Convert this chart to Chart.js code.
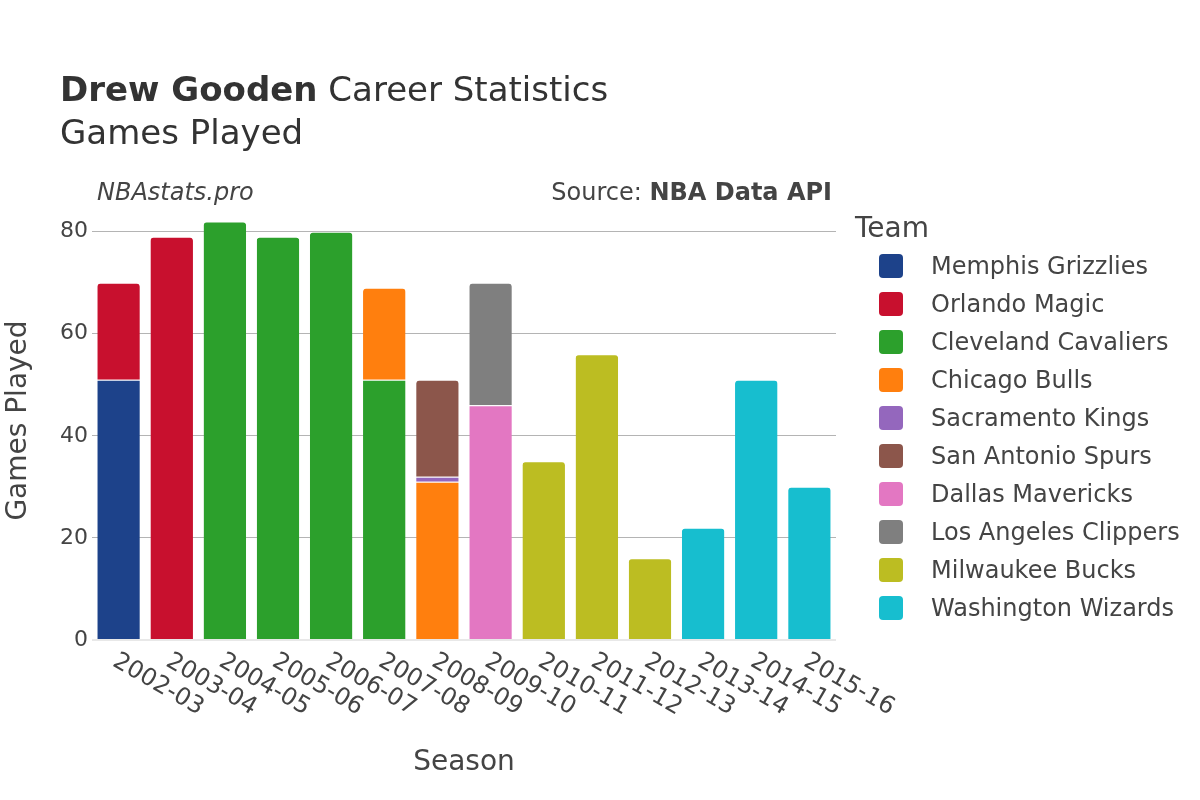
<!DOCTYPE html>
<html>
<head>
<meta charset="utf-8">
<script src="https://cdn.jsdelivr.net/npm/chart.js@4.4.1/dist/chart.umd.min.js"></script>
<style>
body { margin: 0; background: #fff; }
#wrap { width: 1200px; height: 800px; position: relative; }
</style>
</head>
<body>
<div id="wrap"><canvas id="chart"></canvas></div>
<script>
const seasons = ['2002-03', '2003-04', '2004-05', '2005-06', '2006-07', '2007-08', '2008-09',
    '2009-10', '2010-11', '2011-12', '2012-13', '2013-14', '2014-15', '2015-16'];

const teams = ['Memphis Grizzlies', 'Orlando Magic', 'Cleveland Cavaliers', 'Chicago Bulls',
    'Sacramento Kings', 'San Antonio Spurs', 'Dallas Mavericks', 'Los Angeles Clippers',
    'Milwaukee Bucks', 'Washington Wizards'];

const teamColors = ['#1d428a', '#c8102e', '#2ca02c', '#ff7f0e', '#9467bd',
    '#8c564b', '#e377c2', '#7f7f7f', '#bcbd22', '#17becf'];

// games played per season, one array per team
const memphisGames    = [51, null, null, null, null, null, null, null, null, null, null, null, null, null];
const orlandoGames    = [19, 79, null, null, null, null, null, null, null, null, null, null, null, null];
const clevelandGames  = [null, null, 82, 79, 80, 51, null, null, null, null, null, null, null, null];
const chicagoGames    = [null, null, null, null, null, 18, 31, null, null, null, null, null, null, null];
const sacramentoGames = [null, null, null, null, null, null, 1, null, null, null, null, null, null, null];
const spursGames      = [null, null, null, null, null, null, 19, null, null, null, null, null, null, null];
const dallasGames     = [null, null, null, null, null, null, null, 46, null, null, null, null, null, null];
const clippersGames   = [null, null, null, null, null, null, null, 24, null, null, null, null, null, null];
const bucksGames      = [null, null, null, null, null, null, null, null, 35, 56, 16, null, null, null];
const wizardsGames    = [null, null, null, null, null, null, null, null, null, null, null, 22, 51, 30];

const teamGames = [memphisGames, orlandoGames, clevelandGames, chicagoGames, sacramentoGames,
    spursGames, dallasGames, clippersGames, bucksGames, wizardsGames];

const yTicks = [0, 20, 40, 60, 80];

const FONT = '"DejaVu Sans", sans-serif';

const datasets = teams.map((team, i) => ({
    label: team,
    data: teamGames[i],
    backgroundColor: teamColors[i],
    borderColor: '#ffffff',
    borderWidth: { top: 1, left: 0, right: 0, bottom: 0 },
    borderRadius: 4,
    categoryPercentage: 1.0,
    barPercentage: 0.8,
}));

const extras = {
    id: 'extras',
    afterDraw(chart) {
        const ctx = chart.ctx;
        const area = chart.chartArea;
        const xs = chart.scales.x;
        ctx.save();

        // titles
        ctx.textBaseline = 'alphabetic';
        ctx.textAlign = 'left';
        ctx.fillStyle = '#333';
        ctx.font = 'bold 34px ' + FONT;
        ctx.fillText('Drew Gooden', 60, 101);
        const w = ctx.measureText('Drew Gooden').width;
        ctx.font = '34px ' + FONT;
        ctx.fillText(' Career Statistics', 60 + w, 101);
        ctx.fillText('Games Played', 60, 144);

        ctx.fillStyle = '#444';
        ctx.font = 'italic 24px ' + FONT;
        ctx.fillText('NBAstats.pro', 97, 200);
        ctx.textAlign = 'right';
        ctx.font = 'bold 24px ' + FONT;
        ctx.fillText('NBA Data API', 832, 200);
        const bw = ctx.measureText('NBA Data API').width;
        ctx.font = '24px ' + FONT;
        ctx.fillText('Source: ', 832 - bw, 200);

        // x tick labels, rotated 30 deg
        ctx.font = '24px ' + FONT;
        ctx.textAlign = 'left';
        seasons.forEach((s, i) => {
            const px = xs.getPixelForTick(i);
            ctx.save();
            ctx.translate(px - 7, area.bottom + 25);
            ctx.rotate(Math.PI / 6);
            ctx.fillText(s, 0, 0);
            ctx.restore();
        });

        // axis titles
        ctx.font = '28px ' + FONT;
        ctx.textAlign = 'center';
        ctx.fillText('Season', (area.left + area.right) / 2, 770);
        ctx.save();
        ctx.translate(26, (area.top + area.bottom) / 2);
        ctx.rotate(-Math.PI / 2);
        ctx.fillText('Games Played', 0, 0);
        ctx.restore();

        // legend
        ctx.textAlign = 'left';
        ctx.font = '28px ' + FONT;
        ctx.fillText('Team', 855, 237);
        ctx.font = '24px ' + FONT;
        teams.forEach((t, i) => {
            const cy = 266 + i * 38;
            ctx.fillStyle = teamColors[i];
            ctx.beginPath();
            ctx.roundRect(879, cy - 12, 24, 24, 4);
            ctx.fill();
            ctx.fillStyle = '#444';
            ctx.fillText(t, 931, cy + 8);
        });
        ctx.restore();
    }
};

const config = {
    type: 'bar',
    data: {
        labels: seasons,
        datasets: datasets
    },
    options: {
        responsive: true,
        maintainAspectRatio: false,
        animation: false,
        layout: {
            padding: { left: 0, right: 364, top: 201, bottom: 0 }
        },
        scales: {
            x: {
                stacked: true,
                grid: { display: false },
                border: { display: false },
                ticks: { display: false },
                afterFit(scale) { scale.height = 160; }
            },
            y: {
                stacked: true,
                min: 0,
                max: 86,
                afterBuildTicks(scale) {
                    scale.ticks = yTicks.map(v => ({ value: v }));
                },
                afterFit(scale) { scale.width = 92; },
                border: { display: false },
                grid: {
                    drawTicks: false,
                    color: (c) => c.tick && c.tick.value === 0 ? '#e8e8e8' : '#b4b4b4',
                    lineWidth: (c) => c.tick && c.tick.value === 0 ? 2 : 1
                },
                ticks: {
                    padding: 4,
                    color: '#444',
                    font: { family: FONT, size: 22 }
                }
            }
        },
        plugins: {
            legend: { display: false },
            tooltip: { enabled: false }
        }
    },
    plugins: [extras]
};

const chart = new Chart(document.getElementById('chart'), config);
</script>
</body>
</html>
